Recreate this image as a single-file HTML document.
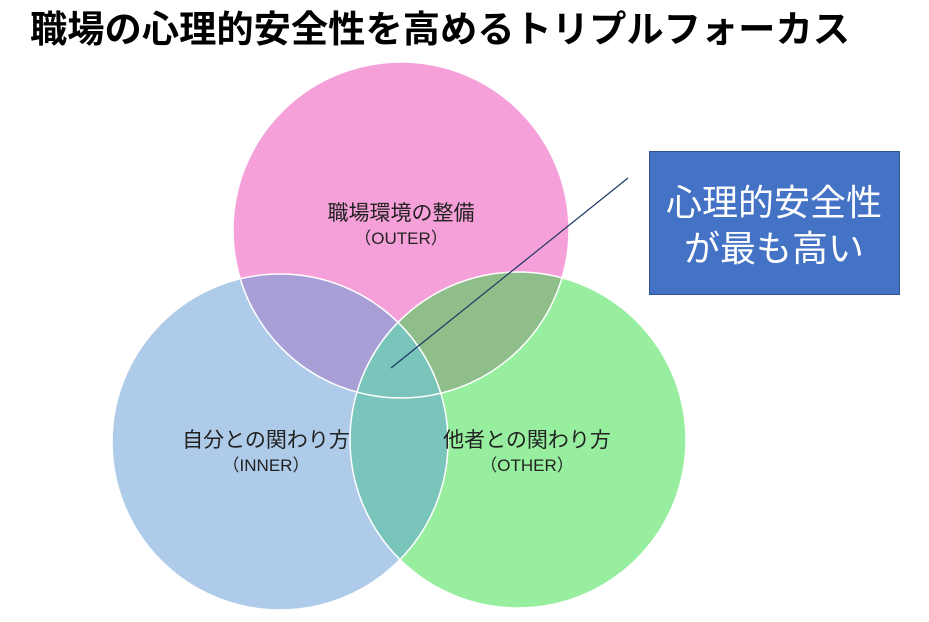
<!DOCTYPE html>
<html><head><meta charset="utf-8"><style>
html,body{margin:0;padding:0;background:#fff;width:929px;height:622px;overflow:hidden}
svg{display:block}
text{font-family:"Liberation Sans","Noto Sans CJK JP",sans-serif}
</style></head><body>
<svg width="929" height="622" viewBox="0 0 929 622" xmlns="http://www.w3.org/2000/svg">
<defs>
<clipPath id="cT"><circle cx="401" cy="230" r="168"/></clipPath>
<clipPath id="cL"><circle cx="280" cy="442" r="168"/></clipPath>
</defs>
<text x="30" y="42" font-size="37" font-weight="bold" fill="#000" textLength="820" lengthAdjust="spacingAndGlyphs">職場の心理的安全性を高めるトリプルフォーカス</text>
<circle cx="401" cy="230" r="168" fill="#F5A0D9"/>
<circle cx="280" cy="442" r="168" fill="#AECBE9"/>
<circle cx="518" cy="440" r="168" fill="#96EE9E"/>
<g clip-path="url(#cT)">
<circle cx="280" cy="442" r="168" fill="#A89FD6"/>
<circle cx="518" cy="440" r="168" fill="#8FBE8A"/>
</g>
<g clip-path="url(#cL)">
<circle cx="518" cy="440" r="168" fill="#79C5BB"/>
</g>
<circle cx="401" cy="230" r="168" fill="none" stroke="#fff" stroke-width="1.5"/>
<circle cx="280" cy="442" r="168" fill="none" stroke="#fff" stroke-width="1.5"/>
<circle cx="518" cy="440" r="168" fill="none" stroke="#fff" stroke-width="1.5"/>
<text x="401" y="220" font-size="21" text-anchor="middle" fill="#222">職場環境の整備</text>
<text x="401" y="244" font-size="17" text-anchor="middle" fill="#222">（OUTER）</text>
<text x="266" y="447" font-size="21" text-anchor="middle" fill="#222">自分との関わり方</text>
<text x="266" y="471" font-size="17" text-anchor="middle" fill="#222">（INNER）</text>
<text x="527" y="447" font-size="21" text-anchor="middle" fill="#222">他者との関わり方</text>
<text x="527" y="471" font-size="17" text-anchor="middle" fill="#222">（OTHER）</text>
<line x1="628" y1="178" x2="391" y2="368" stroke="#1F3864" stroke-width="1.2"/>
<rect x="649.5" y="151.5" width="250" height="143" fill="#4472C4" stroke="#2F528F" stroke-width="1"/>
<text x="774" y="215" font-size="36" text-anchor="middle" fill="#fff">心理的安全性</text>
<text x="774" y="261" font-size="36" text-anchor="middle" fill="#fff">が最も高い</text>
</svg>
</body></html>
